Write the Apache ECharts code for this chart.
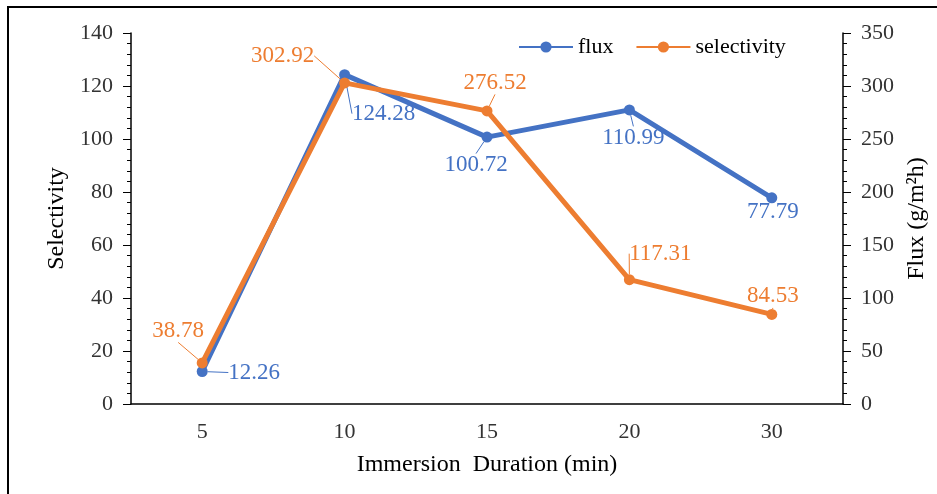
<!DOCTYPE html>
<html>
<head>
<meta charset="utf-8">
<style>
  html, body { margin: 0; padding: 0; background: #fff; }
  #main { width: 937px; height: 494px; }
</style>
<script src="https://cdn.jsdelivr.net/npm/echarts@6/dist/echarts.min.js"></script>
</head>
<body>
<div id="main"></div>
<script>
// data
var durations = ['5', '10', '15', '20', '30']
var fluxValues = [12.26, 124.28, 100.72, 110.99, 77.79]
var selectivityValues = [38.78, 302.92, 276.52, 117.31, 84.53]

// label nudges (px) relative to each point
var fluxLabelShift = [[52, 1], [39, 39], [-11, 28], [4, 28], [1, 14]]
var selLabelShift = [[-24, -32], [-62, -27], [8, -28], [31, -26], [1, -18]]

var font = 'Liberation Serif'
var blue = '#4472C4'
var orange = '#ED7D31'

var myChart = echarts.init(document.getElementById('main'))

function lineSeries (name, data, color, yIdx, shifts) {
  return {
    name: name,
    type: 'line',
    yAxisIndex: yIdx,
    data: data,
    symbol: 'circle',
    symbolSize: 11,
    lineStyle: { width: 5, color: color },
    itemStyle: { color: color },
    label: {
      show: true,
      position: 'inside',
      color: color,
      fontFamily: font,
      fontSize: 23
    },
    labelLine: { show: true, lineStyle: { color: color, width: 1 } },
    labelLayout: function (p) {
      var s = shifts[p.dataIndex]
      return { dx: s[0], dy: s[1] }
    }
  }
}

myChart.setOption({
  animation: false,
  graphic: [{
    type: 'rect',
    shape: { x: 8, y: 7, width: 1000, height: 1000 },
    style: { fill: 'none', stroke: '#000', lineWidth: 2 },
    silent: true
  }],
  grid: { left: 131, right: 94, top: 33, bottom: 90 },
  legend: {
    left: 513,
    top: 31,
    itemWidth: 54,
    itemHeight: 14,
    itemGap: 22,
    textStyle: { fontFamily: font, fontSize: 22, color: '#000' },
    data: ['flux', 'selectivity']
  },
  xAxis: [
    {
      type: 'category',
      data: durations,
      name: 'Immersion  Duration (min)',
      nameLocation: 'middle',
      nameGap: 49,
      nameTextStyle: { fontFamily: font, fontSize: 24, color: '#000' },
      axisLine: { lineStyle: { color: '#000', width: 1.5 } },
      axisTick: { alignWithLabel: true, length: 8, lineStyle: { color: '#000' } },
      axisLabel: { fontFamily: font, fontSize: 22, color: '#333', margin: 17 }
    },
    {
      type: 'category',
      data: durations,
      position: 'bottom',
      axisLine: { show: false },
      axisTick: { length: 8, lineStyle: { color: '#000' } },
      axisLabel: { show: false }
    }
  ],
  yAxis: [
    {
      type: 'value',
      min: 0,
      max: 140,
      interval: 20,
      name: 'Selectivity',
      nameLocation: 'middle',
      nameRotate: 90,
      nameGap: 61,
      nameTextStyle: { fontFamily: font, fontSize: 24, color: '#000' },
      axisLine: { show: true, lineStyle: { color: '#000', width: 1.5 } },
      axisTick: { show: true, length: 8, lineStyle: { color: '#000' } },
      minorTick: { show: true, splitNumber: 5, length: 4, lineStyle: { color: '#000' } },
      splitLine: { show: false },
      axisLabel: { fontFamily: font, fontSize: 22, color: '#333', margin: 18 }
    },
    {
      type: 'value',
      min: 0,
      max: 350,
      interval: 50,
      position: 'right',
      name: 'Flux (g/m²h)',
      nameLocation: 'middle',
      nameRotate: 90,
      nameGap: 57,
      nameTextStyle: { fontFamily: font, fontSize: 24, color: '#000' },
      axisLine: { show: true, lineStyle: { color: '#000', width: 1.5 } },
      axisTick: { show: true, length: 8, lineStyle: { color: '#000' } },
      minorTick: { show: true, splitNumber: 5, length: 4, lineStyle: { color: '#000' } },
      splitLine: { show: false },
      axisLabel: { fontFamily: font, fontSize: 22, color: '#333', margin: 18 }
    }
  ],
  series: [
    lineSeries('flux', fluxValues, blue, 0, fluxLabelShift),
    lineSeries('selectivity', selectivityValues, orange, 1, selLabelShift)
  ]
})
</script>
</body>
</html>
